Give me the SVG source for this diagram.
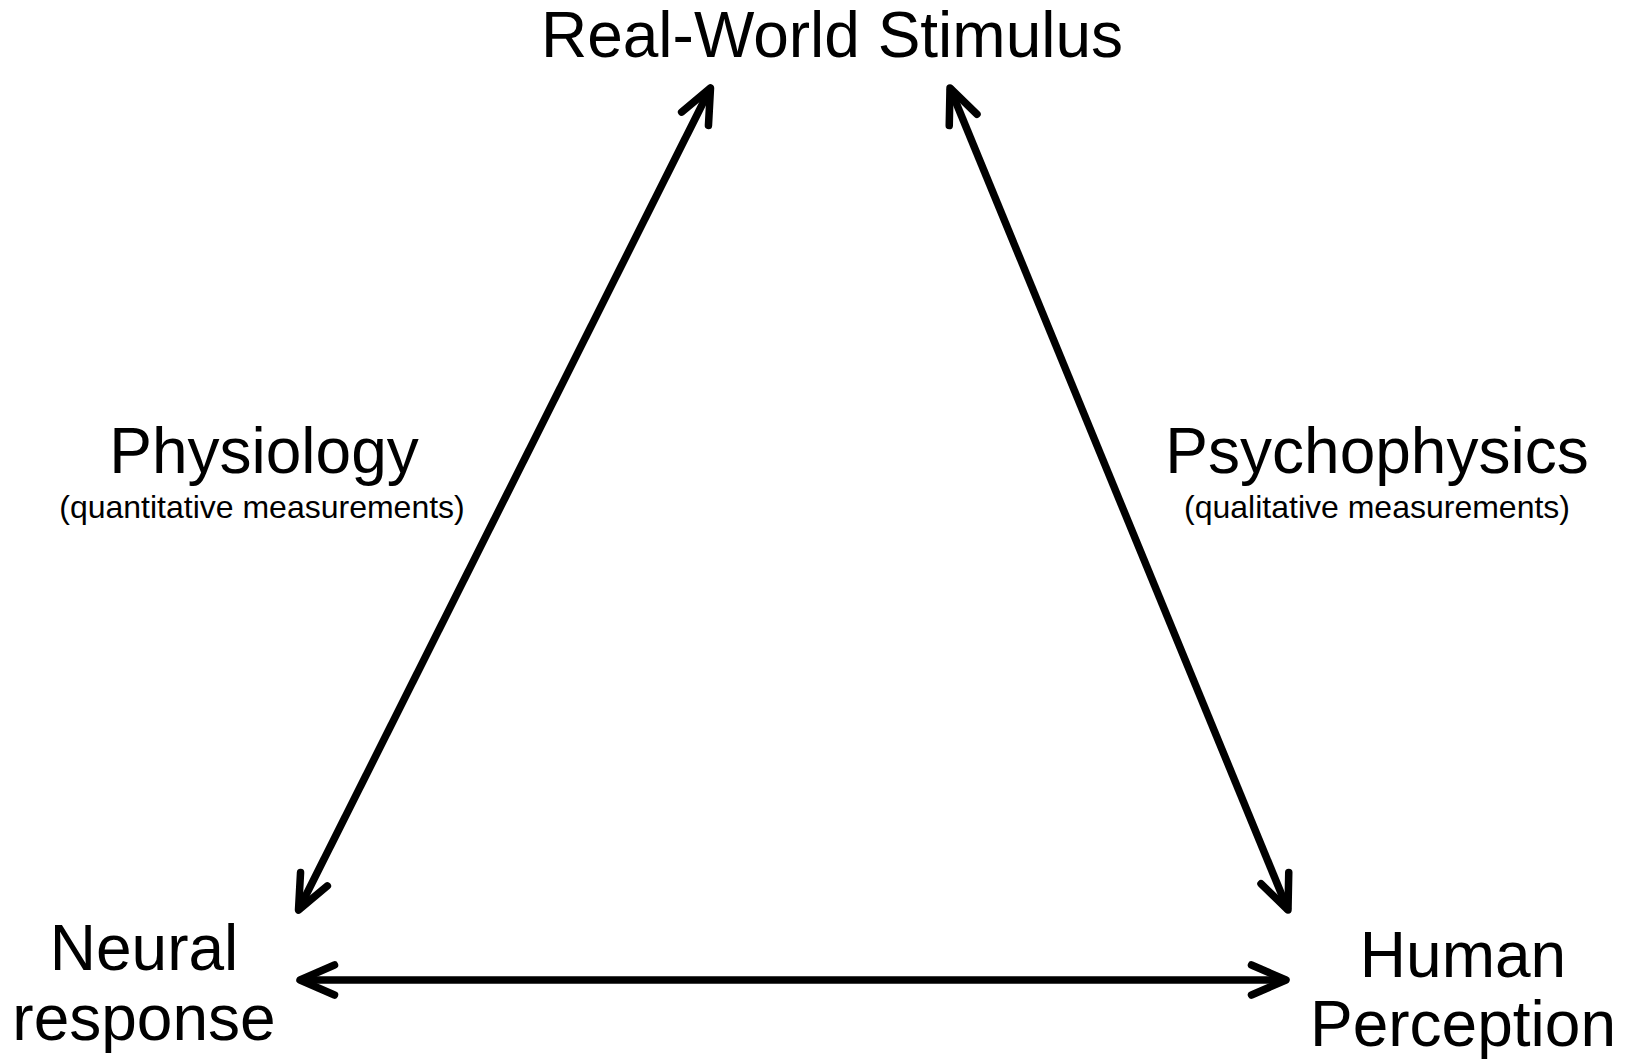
<svg xmlns="http://www.w3.org/2000/svg" width="1630" height="1060" viewBox="0 0 1630 1060">
  <style>
    .big { font-family: "Liberation Sans", Arial, sans-serif; font-size: 64px; fill: #000; text-anchor: middle; }
    .small { font-family: "Liberation Sans", Arial, sans-serif; font-size: 32px; fill: #000; text-anchor: middle; }
    .conn { stroke: #000; stroke-width: 7.5; fill: none; stroke-linecap: butt; }
  </style>
  <defs>
    <marker id="ah" viewBox="-6 -3 7 6" refX="0" refY="0" markerWidth="7" markerHeight="6" orient="auto-start-reverse" markerUnits="strokeWidth" overflow="visible">
      <path d="M-4.6,-2.0 L0,0 L-4.6,2.0" fill="none" stroke="#000" stroke-width="1" stroke-linecap="round" stroke-linejoin="round"/>
    </marker>
  </defs>
  <rect width="1630" height="1060" fill="#fff"/>
  <g id="connectors">
    <line class="conn" x1="710.5" y1="88" x2="298.5" y2="910" marker-start="url(#ah)" marker-end="url(#ah)"/>
    <line class="conn" x1="950" y1="88" x2="1288" y2="910" marker-start="url(#ah)" marker-end="url(#ah)"/>
    <line class="conn" x1="300" y1="980" x2="1286" y2="980" marker-start="url(#ah)" marker-end="url(#ah)"/>
  </g>
  <g id="stimulus">
    <text class="big" x="832" y="57">Real-World Stimulus</text>
  </g>
  <g id="physiology">
    <text class="big" x="264" y="473">Physiology</text>
    <text class="small" x="262" y="518">(quantitative measurements)</text>
  </g>
  <g id="psychophysics">
    <text class="big" x="1377" y="473">Psychophysics</text>
    <text class="small" x="1377" y="518">(qualitative measurements)</text>
  </g>
  <g id="neural">
    <text class="big" x="144" y="970">Neural</text>
    <text class="big" x="144" y="1040">response</text>
  </g>
  <g id="human">
    <text class="big" x="1463" y="977">Human</text>
    <text class="big" x="1463" y="1046">Perception</text>
  </g>
</svg>
